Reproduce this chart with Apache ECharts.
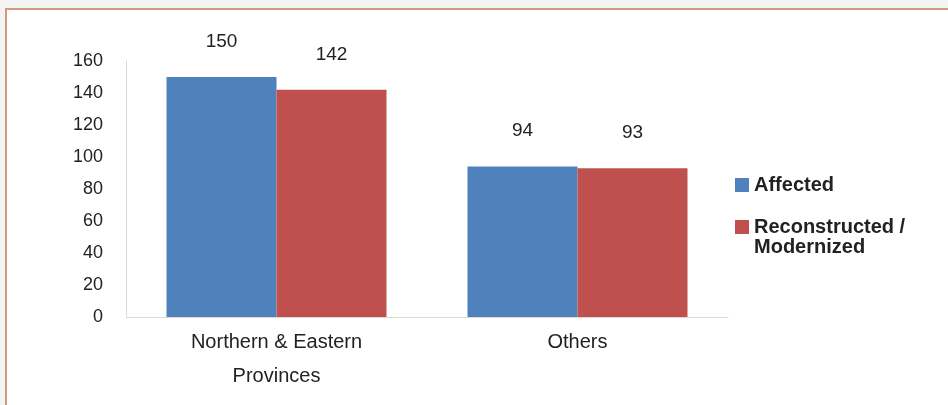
<!DOCTYPE html>
<html>
<head>
<meta charset="utf-8">
<script src="https://cdn.jsdelivr.net/npm/echarts@6/dist/echarts.min.js"></script>
<style>
  html, body { margin: 0; padding: 0; }
  body { width: 948px; height: 405px; background: #f3f3f3; position: relative; overflow: hidden; }
  #frame { position: absolute; left: 5px; top: 8px; width: 980px; height: 430px;
           border: 2px solid #d3987f; background: #ffffff; }
  #chart { position: absolute; left: 0; top: 0; width: 948px; height: 405px; }
</style>
</head>
<body>
<div id="frame"></div>
<div id="chart"></div>
<script>
// Categories and values
const categories = ['Northern & Eastern\nProvinces', 'Others'];
const affected = [150, 94];
const reconstructed = [142, 93];
const seriesNames = ['Affected', 'Reconstructed / Modernized'];
const yTicks = { min: 0, max: 160, interval: 20 };

const FONT = '"Liberation Sans", Arial, sans-serif';
const TEXT = '#222222';

const chart = echarts.init(document.getElementById('chart'), null, { renderer: 'canvas' });

const valueLabel = {
  show: true,
  position: 'top',
  distance: 26,
  color: TEXT,
  fontFamily: FONT,
  fontSize: 19
};

chart.setOption({
  animation: false,
  backgroundColor: 'transparent',
  grid: { left: 126, right: 220, top: 61, bottom: 88 },
  legend: [
    {
      data: [seriesNames[0]],
      orient: 'vertical',
      left: 735,
      top: 175,
      padding: 0,
      itemWidth: 14,
      itemHeight: 14,
      icon: 'rect',
      textStyle: { color: TEXT, fontFamily: FONT, fontSize: 20, fontWeight: 'bold', lineHeight: 20 }
    },
    {
      data: [seriesNames[1]],
      orient: 'vertical',
      left: 735,
      top: 197,
      padding: 0,
      itemWidth: 14,
      itemHeight: 14,
      icon: 'rect',
      // blank first line keeps the swatch level with the first text line
      formatter: () => ' \nReconstructed /\nModernized',
      textStyle: { color: TEXT, fontFamily: FONT, fontSize: 20, fontWeight: 'bold', lineHeight: 20 }
    }
  ],
  xAxis: {
    type: 'category',
    data: categories,
    axisLine: { show: true, lineStyle: { color: '#d9d9d9', width: 1 } },
    axisTick: { show: false },
    axisLabel: {
      color: TEXT, fontFamily: FONT, fontSize: 20, lineHeight: 34, margin: 8, interval: 0
    }
  },
  yAxis: {
    type: 'value',
    min: yTicks.min,
    max: yTicks.max,
    interval: yTicks.interval,
    axisLine: { show: true, lineStyle: { color: '#d9d9d9', width: 1 } },
    axisTick: { show: false },
    splitLine: { show: false },
    axisLabel: { color: TEXT, fontFamily: FONT, fontSize: 18, margin: 23 }
  },
  series: [
    {
      name: seriesNames[0],
      type: 'bar',
      data: affected,
      barWidth: 110,
      barGap: '0%',
      itemStyle: { color: '#4f81bd' },
      label: valueLabel
    },
    {
      name: seriesNames[1],
      type: 'bar',
      data: reconstructed,
      barWidth: 110,
      barGap: '0%',
      itemStyle: { color: '#c0504d' },
      label: valueLabel
    }
  ]
});
</script>
</body>
</html>
